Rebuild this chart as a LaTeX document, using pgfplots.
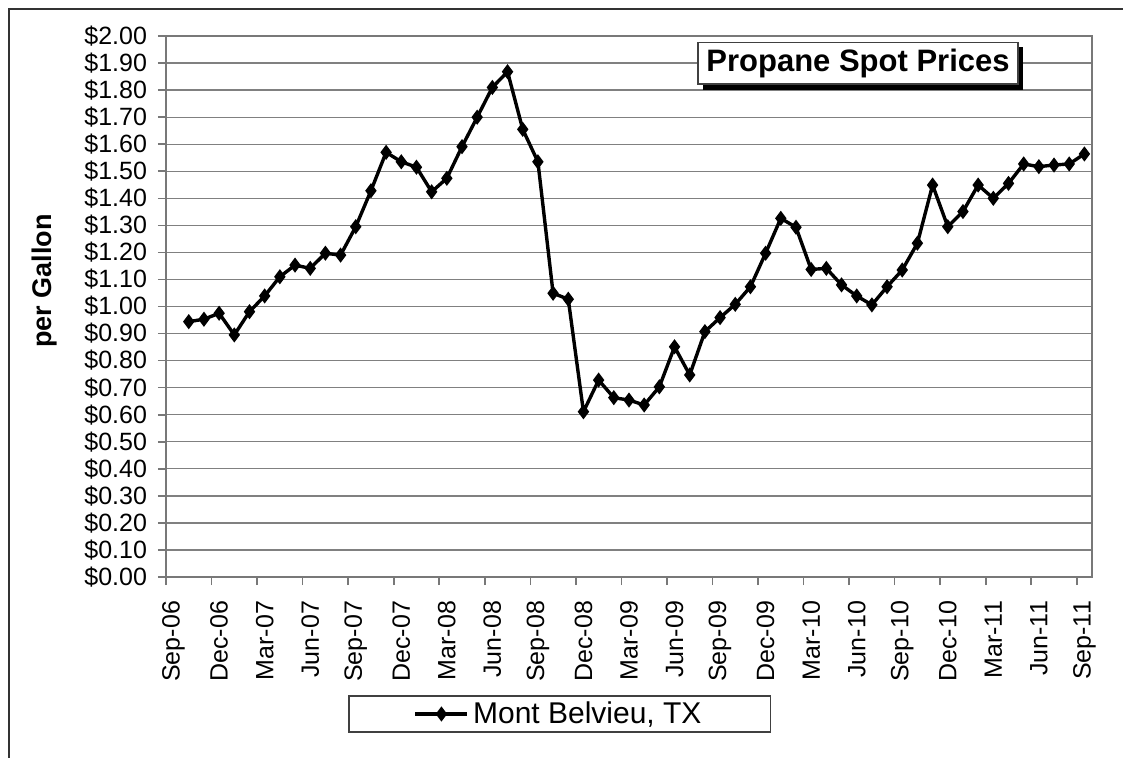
\documentclass[border=0pt]{standalone}
\usepackage{fontspec}
\setmainfont{Liberation Sans}
\usepackage{pgfplots}
\pgfplotsset{compat=1.18}
\definecolor{gridgray}{RGB}{128,128,128}
\definecolor{framegray}{RGB}{120,120,120}
\pgfplotstableread{
x y
1 0.944
2 0.953
3 0.975
4 0.895
5 0.981
6 1.039
7 1.110
8 1.153
9 1.141
10 1.197
11 1.190
12 1.295
13 1.428
14 1.570
15 1.535
16 1.515
17 1.424
18 1.474
19 1.591
20 1.700
21 1.810
22 1.868
23 1.655
24 1.535
25 1.049
26 1.027
27 0.611
28 0.728
29 0.663
30 0.654
31 0.636
32 0.703
33 0.851
34 0.747
35 0.907
36 0.959
37 1.008
38 1.073
39 1.197
40 1.326
41 1.293
42 1.137
43 1.141
44 1.080
45 1.039
46 1.006
47 1.073
48 1.135
49 1.234
50 1.449
51 1.295
52 1.351
53 1.449
54 1.400
55 1.455
56 1.527
57 1.517
58 1.523
59 1.527
60 1.564
}\propane
\begin{document}
\begin{tikzpicture}
\path[use as bounding box] (-83pt,-90pt) rectangle (478.5pt,288.5pt);
\draw[black!80, line width=1pt] (-78.5pt,-91pt) -- (-78.5pt,284pt) -- (479pt,284pt);
\begin{axis}[
  at={(0pt,0pt)}, anchor=south west,
  scale only axis, width=463pt, height=270.5pt,
  xmin=-0.5, xmax=60.5, ymin=0, ymax=2,
  axis line style={draw=framegray, line width=0.9pt},
  tick align=outside, major tick length=4pt,
  xtick pos=bottom, ytick pos=left,
  tick style={draw=framegray, line width=0.8pt},
  xtick={-0.5,2.5,...,59.5},
  xticklabels={},
  extra x ticks={0,3,...,60},
  extra x tick labels={Sep-06,Dec-06,Mar-07,Jun-07,Sep-07,Dec-07,Mar-08,Jun-08,Sep-08,Dec-08,Mar-09,Jun-09,Sep-09,Dec-09,Mar-10,Jun-10,Sep-10,Dec-10,Mar-11,Jun-11,Sep-11},
  extra x tick style={major tick length=0pt, xticklabel style={rotate=90, anchor=east, xshift=-8.5pt}},
  xticklabel style={font=\fontsize{12.5}{14}\selectfont},
  ytick={0,0.1,0.2,0.3,0.4,0.5,0.6,0.7,0.8,0.9,1.0,1.1,1.2,1.3,1.4,1.5,1.6,1.7,1.8,1.9,2.0},
  yticklabel={\$\pgfmathprintnumber[fixed,fixed zerofill,precision=2]{\tick}},
  /pgf/number format/assume math mode=true,
  yticklabel style={font=\fontsize{12.5}{14}\selectfont, xshift=-2pt},
  ymajorgrids,
  grid style={draw=gridgray, line width=0.65pt},
  ylabel={per Gallon},
  ylabel style={font=\bfseries\fontsize{13.5}{15}\selectfont, at={(axis description cs:-0.1307,0.547)}, anchor=center},
  legend style={at={(0.4251,-0.2532)}, anchor=center, draw=black!75, line width=0.9pt,
     font=\fontsize{15}{17}\selectfont, inner xsep=32.5pt, inner ysep=1pt},
  legend image code/.code={\draw[mark repeat=2,mark phase=2,#1] plot coordinates {(0pt,0pt) (13pt,0pt) (26pt,0pt)};},
]
\addplot[black, line width=1.7pt, mark=diamond*, mark size=2.4pt, mark options={solid}] table[x=x,y=y] {\propane};
\addlegendentry{Mont Belvieu, TX}
\end{axis}
\fill[black] (268.5pt,243.5pt) rectangle (428.5pt,265pt);
\draw[black!75, fill=white, line width=0.7pt] (266pt,246.5pt) rectangle (426pt,267.3pt);
\node[font=\bfseries\fontsize{15.5}{17}\selectfont, inner sep=0pt] at (346pt,256.9pt) {Propane Spot Prices};
\end{tikzpicture}
\end{document}
